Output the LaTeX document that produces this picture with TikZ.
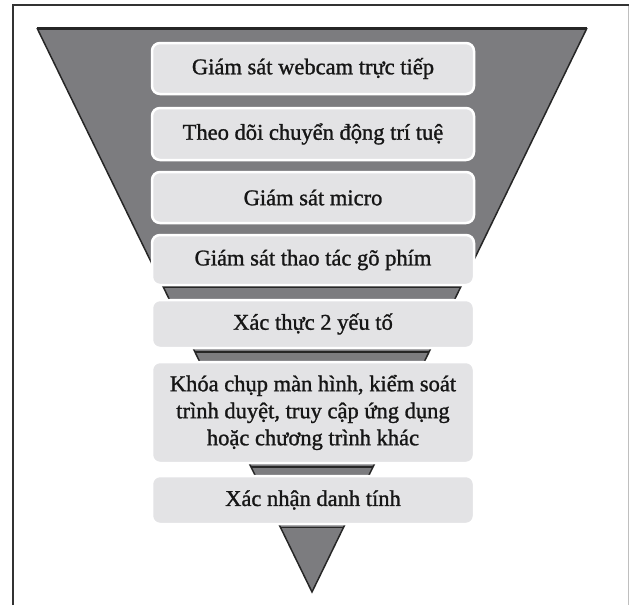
\documentclass[tikz,border=0pt]{standalone}
\usepackage{fontspec}
\setmainfont{Liberation Serif}
\newfontfamily\heavyserif{Liberation Serif}[FakeBold=1.2]
\definecolor{funnelgray}{HTML}{7C7C7F}
\definecolor{boxgray}{HTML}{E3E3E5}
\definecolor{edgedark}{HTML}{262626}
\definecolor{textdark}{HTML}{161616}
\begin{document}
\begin{tikzpicture}[x=1pt,y=-1pt,
  stagebox/.style={rectangle, rounded corners=8pt, fill=boxgray, draw=white,
    line width=2.5pt, minimum width=322pt, inner sep=0pt, align=center,
    text=textdark, font=\heavyserif\fontsize{22.5}{27}\selectfont},
  bandline/.style={edgedark, line width=1.8pt}]
\useasboundingbox (0,0) rectangle (629,605);
% frame
\draw[black!25, line width=1pt] (628,5) -- (628,605);
\draw[black!80, line width=2pt] (12.5,605) -- (12.5,5) -- (629,5);
% funnel
\coordinate (tl) at (37,28);
\coordinate (tr) at (587,28);
\coordinate (ap) at (312,592);
\fill[funnelgray] (tl) -- (tr) -- (ap) -- cycle;
\begin{scope}
  \clip (tl) -- (tr) -- (ap) -- cycle;
  \draw[bandline] (0,287) -- (629,287);
  \draw[bandline] (0,352) -- (629,352);
  \draw[bandline] (0,467) -- (629,467);
  \draw[bandline] (0,527.5) -- (629,527.5);
\end{scope}
\draw[edgedark, line width=1.5pt] (tl) -- (ap) -- (tr);
\draw[edgedark, line width=3pt] (tl) -- (tr);
% boxes
\node[stagebox, minimum height=51pt] (b1) at (313,68.5) {Giám sát webcam trực tiếp};
\node[stagebox, minimum height=52pt] (b2) at (313,134) {Theo dõi chuyển động trí tuệ};
\node[stagebox, minimum height=51pt] (b3) at (313,197.5) {Giám sát micro};
\node[stagebox, minimum height=50pt] (b4) at (313,260) {Giám sát thao tác gõ phím};
\node[stagebox, minimum height=48pt] (b5) at (313,324) {Xác thực 2 yếu tố};
\node[stagebox, minimum height=101pt] (b6) at (313,412.5) {Khóa chụp màn hình, kiểm soát\\trình duyệt, truy cập ứng dụng\\hoặc chương trình khác};
\node[stagebox, minimum height=48pt] (b7) at (313,500) {Xác nhận danh tính};
\end{tikzpicture}
\end{document}
